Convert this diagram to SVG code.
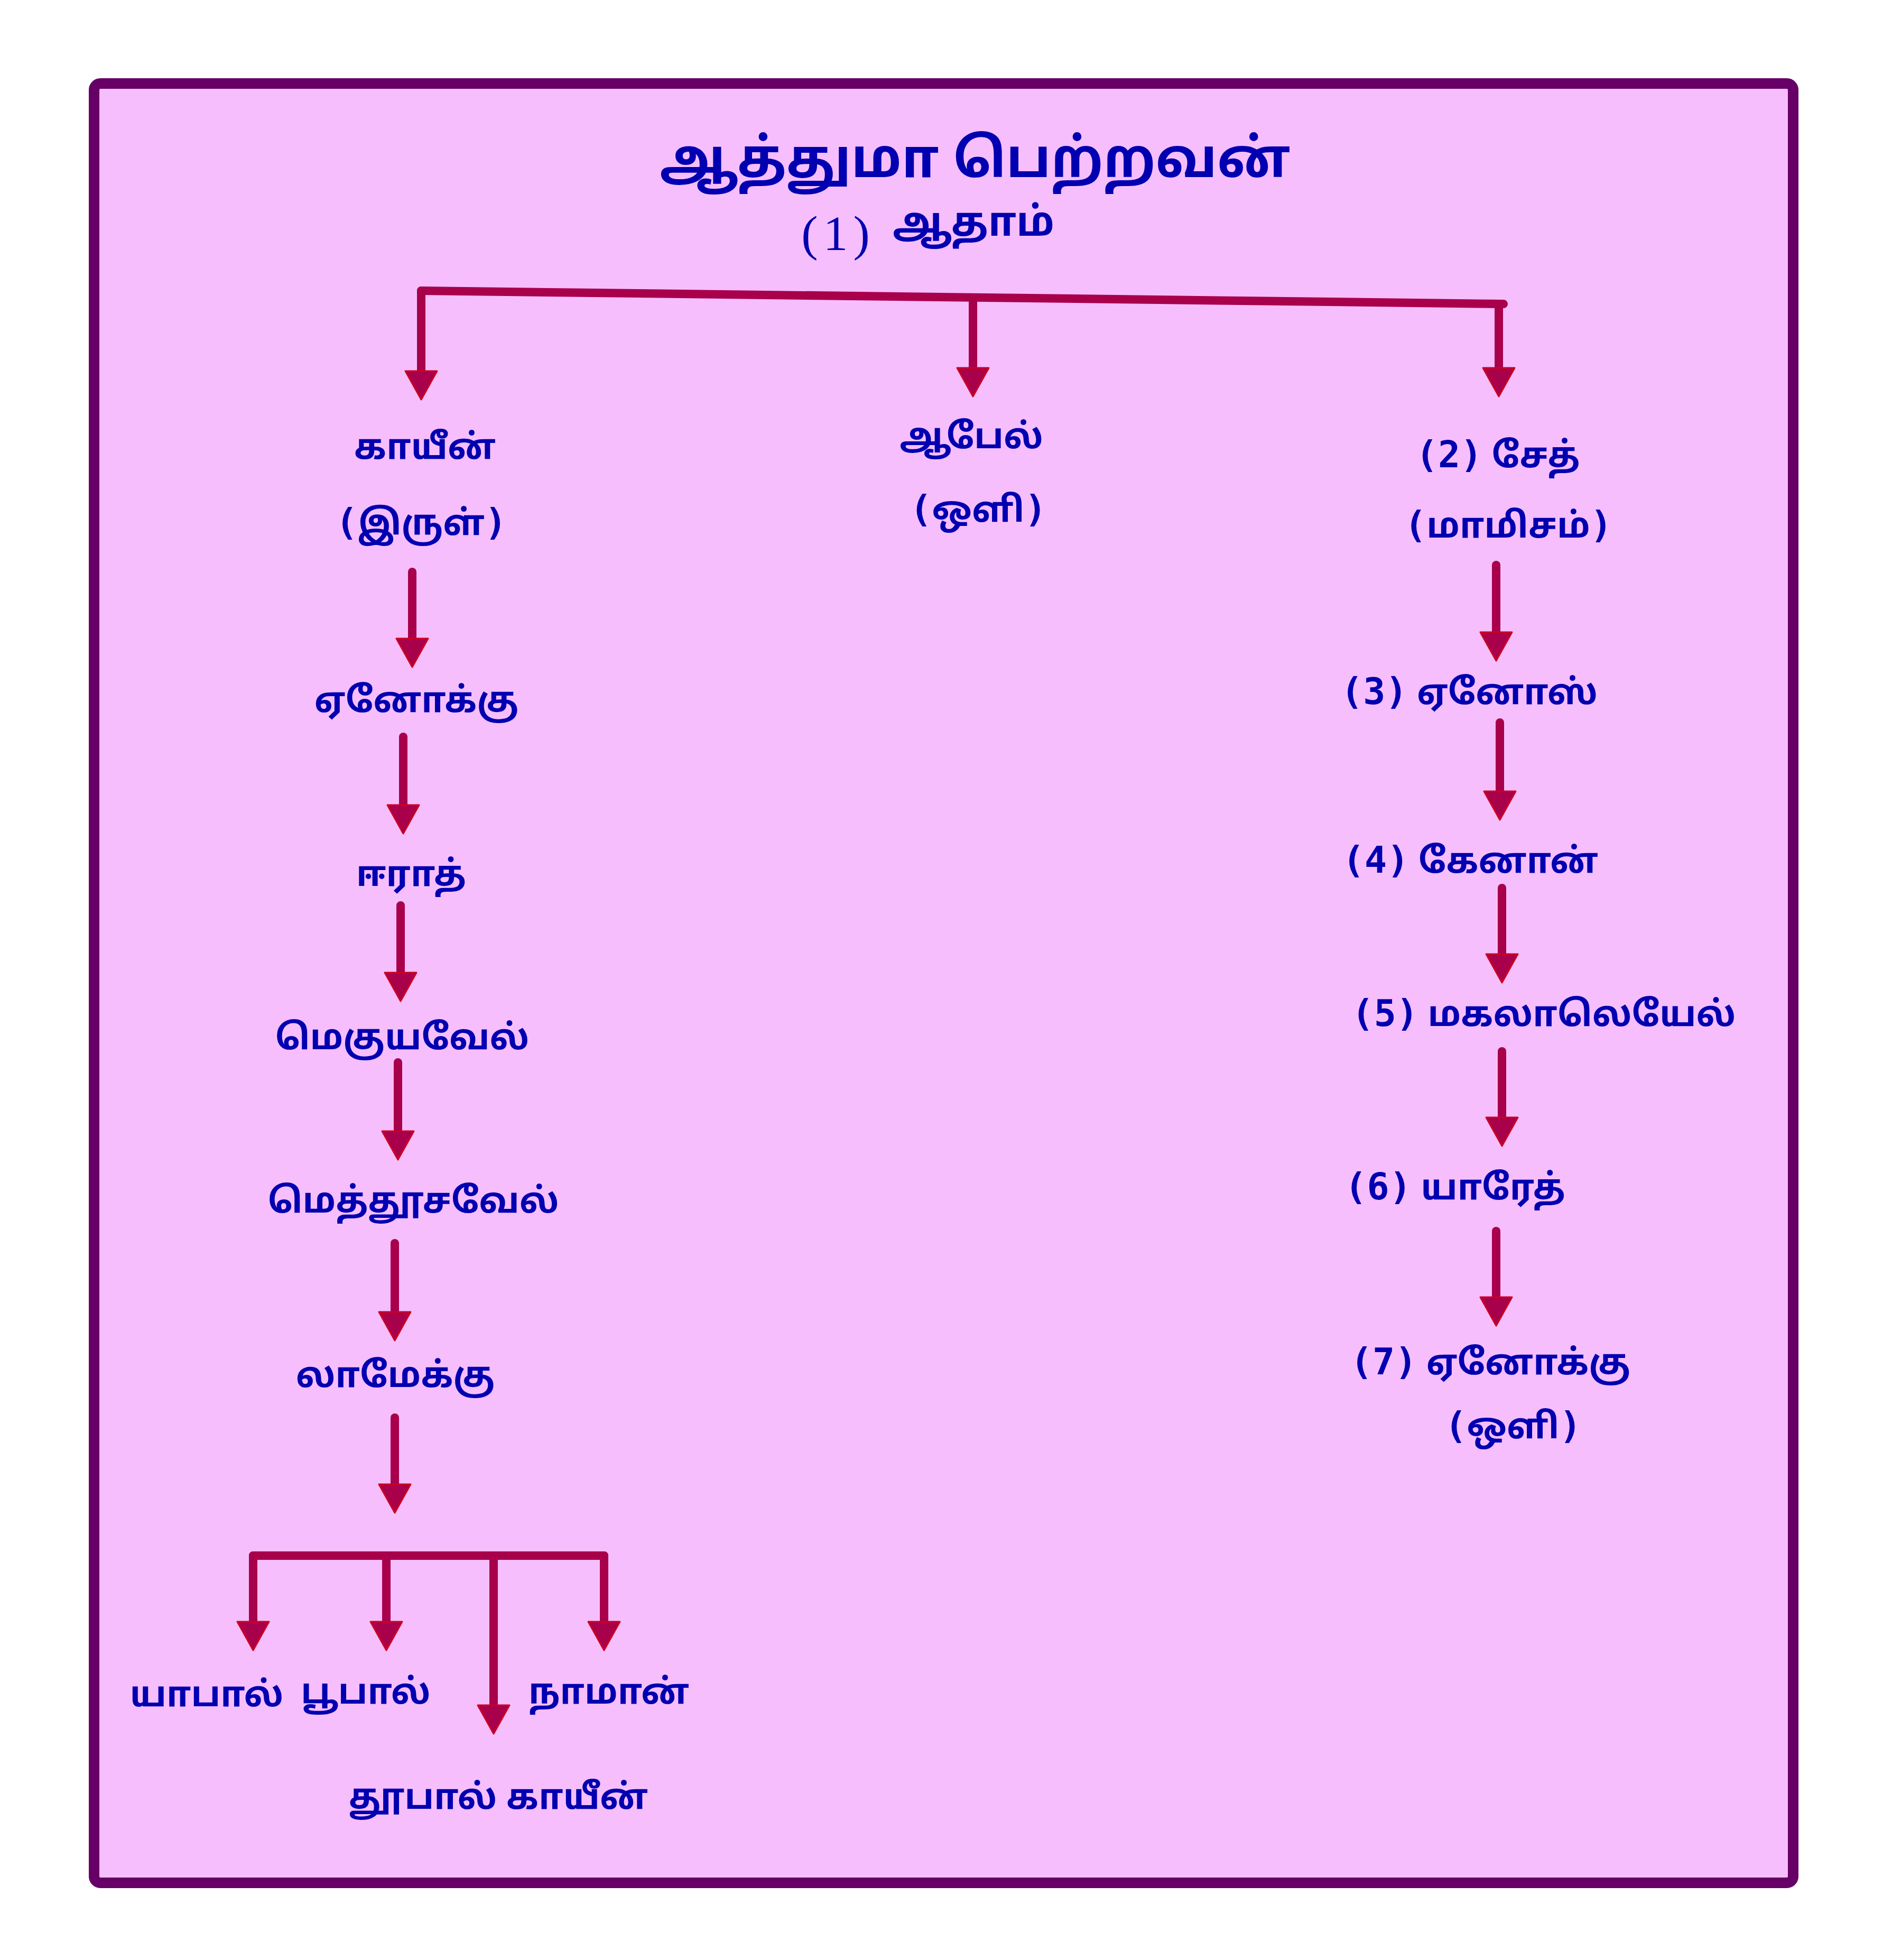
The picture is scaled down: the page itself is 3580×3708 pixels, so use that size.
<svg xmlns="http://www.w3.org/2000/svg" width="3580" height="3708" viewBox="0 0 3580 3708">
<defs>
<marker id="ah" markerUnits="userSpaceOnUse" viewBox="-3 -34 60 68" refX="0" refY="0" markerWidth="60" markerHeight="68" orient="auto">
<path d="M0,-30 L54,0 L0,30 Z" fill="#A8004B" stroke="#CC0022" stroke-width="3" stroke-linejoin="round"/>
</marker>
<style>
.frame{fill:#F6BEFC;stroke:#660066;stroke-width:20}
.t{font-family:"Noto Sans Tamil","Latha","Lohit Tamil","Noto Sans",sans-serif;fill:#0000B0;text-anchor:middle;font-weight:700}
.lbl{font-size:67px}
.ttl{font-size:102px}
.num{font-family:"DejaVu Sans Mono","Noto Sans Tamil","Latha",monospace;font-weight:700;font-size:70px}
.c{fill:none;stroke:#A8004B;stroke-width:16;stroke-linecap:round;stroke-linejoin:round}
.a{marker-end:url(#ah)}
</style>
</defs>
<rect class="frame" x="178" y="158" width="3215" height="3404" rx="12"/>
<g id="connectors">
<path class="c" d="M797,550 L2845,575"/>
<path class="c a" d="M797,550 L797,702"/>
<path class="c a" d="M1841,563 L1841,696"/>
<path class="c a" d="M2836,575 L2836,696"/>
<path class="c a" d="M780,1082 L780,1208"/>
<path class="c a" d="M763,1394 L763,1523"/>
<path class="c a" d="M758,1713 L758,1840"/>
<path class="c a" d="M753,2010 L753,2140"/>
<path class="c a" d="M747,2352 L747,2482"/>
<path class="c a" d="M747,2682 L747,2808"/>
<path class="c" d="M479,2943 L1143,2943"/>
<path class="c a" d="M479,2943 L479,3068"/>
<path class="c a" d="M731,2943 L731,3068"/>
<path class="c a" d="M934,2943 L934,3226"/>
<path class="c a" d="M1143,2943 L1143,3068"/>
<path class="c a" d="M2831,1069 L2831,1196"/>
<path class="c a" d="M2838,1367 L2838,1497"/>
<path class="c a" d="M2842,1680 L2842,1805"/>
<path class="c a" d="M2842,1989 L2842,2114"/>
<path class="c a" d="M2831,2329 L2831,2454"/>
</g>
<g id="title"><text class="t ttl" x="1845" y="335">ஆத்துமா பெற்றவன்</text></g>
<g id="n1"><text class="t" x="1586" y="473" font-size="94" style="font-family:'Liberation Serif',serif;font-weight:400" letter-spacing="10">(1)</text><text class="t" x="1842" y="446" font-size="77">ஆதாம்</text></g>
<g id="n-kayin"><text class="t lbl" x="804" y="868">காயீன்</text><text class="t lbl" x="797" y="1012"><tspan class="num">(</tspan>இருள்<tspan class="num">)</tspan></text></g>
<g id="n-abel"><text class="t lbl" x="1838" y="848">ஆபேல்</text><text class="t lbl" x="1851" y="987"><tspan class="num">(</tspan>ஒளி<tspan class="num">)</tspan></text></g>
<g id="n2"><text class="t lbl" x="2834" y="884"><tspan class="num">(2)</tspan> சேத்</text><text class="t lbl" x="2854" y="1017"><tspan class="num">(</tspan>மாமிசம்<tspan class="num">)</tspan></text></g>
<g id="n-enoch"><text class="t lbl" x="788" y="1347">ஏனோக்கு</text></g>
<g id="n-irad"><text class="t lbl" x="778" y="1676">ஈராத்</text></g>
<g id="n-mehujael"><text class="t lbl" x="761" y="1985">மெகுயவேல்</text></g>
<g id="n-methushael"><text class="t lbl" x="782" y="2294">மெத்தூசவேல்</text></g>
<g id="n-lamech"><text class="t lbl" x="748" y="2624">லாமேக்கு</text></g>
<g id="n-jabal"><text class="t lbl" x="391" y="3228">யாபால்</text></g>
<g id="n-jubal"><text class="t lbl" x="692" y="3223">பூபால்</text></g>
<g id="n-naamah"><text class="t lbl" x="1152" y="3223">நாமான்</text></g>
<g id="n-tubal"><text class="t lbl" x="943" y="3422">தூபால் காயீன்</text></g>
<g id="n3"><text class="t lbl" x="2780" y="1332"><tspan class="num">(3)</tspan> ஏனோஸ்</text></g>
<g id="n4"><text class="t lbl" x="2782" y="1651"><tspan class="num">(4)</tspan> கேனான்</text></g>
<g id="n5"><text class="t lbl" x="2921" y="1941"><tspan class="num">(5)</tspan> மகலாலெயேல்</text></g>
<g id="n6"><text class="t lbl" x="2753" y="2269"><tspan class="num">(6)</tspan> யாரேத்</text></g>
<g id="n7"><text class="t lbl" x="2820" y="2600"><tspan class="num">(7)</tspan> ஏனோக்கு</text><text class="t lbl" x="2863" y="2721"><tspan class="num">(</tspan>ஒளி<tspan class="num">)</tspan></text></g>
</svg>
